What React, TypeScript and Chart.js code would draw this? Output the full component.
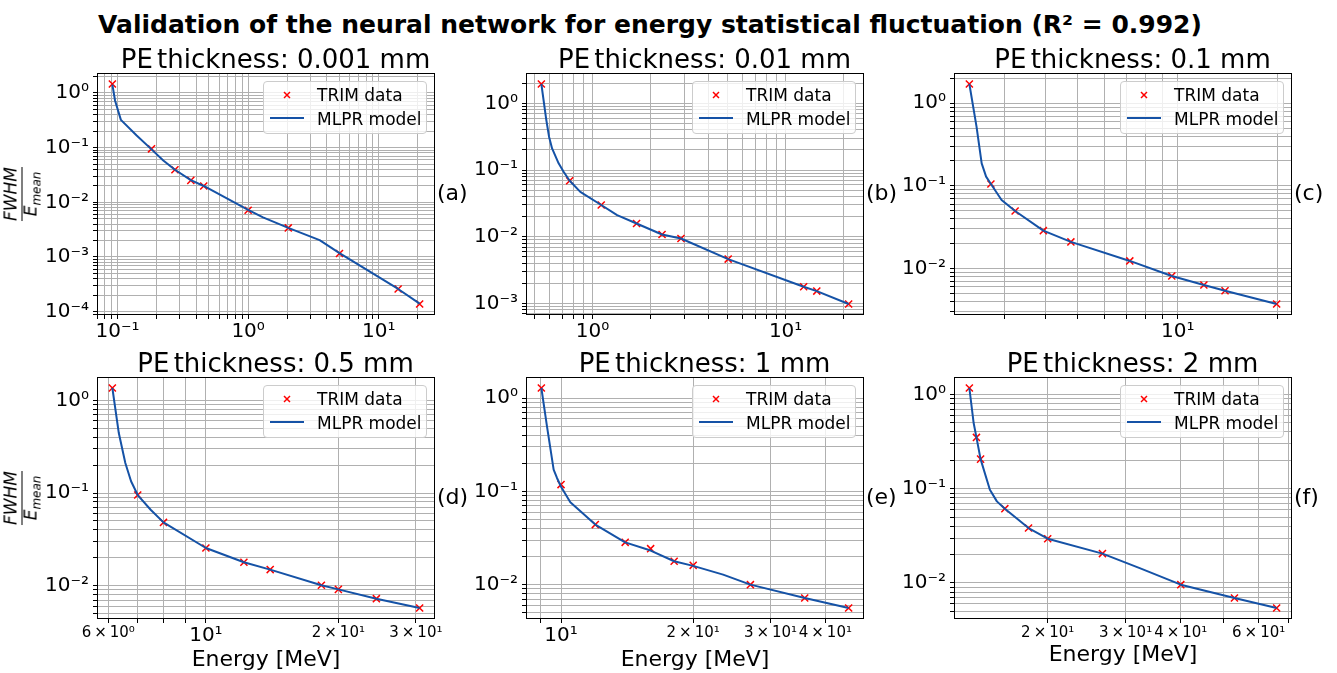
import React, { useEffect, useRef } from 'react';
import { Chart, registerables } from 'chart.js';

Chart.register(...registerables);

const FONT = 'DejaVu Sans';
const BLUE = '#1552a6';
const RED = '#ff0000';

// ---------- data: panel (a) PE 0.001 mm ----------
const energyA = [0.0912, 0.182, 0.275, 0.364, 0.457, 1.0, 2.03, 5.01, 14.1, 20.6];
const trimA = [1.46, 0.095, 0.0394, 0.0252, 0.0199, 0.00715, 0.0034, 0.00116, 2.6e-4, 1.38e-4];
const modelEnergyA = [0.0912, 0.0957, 0.106, 0.14, 0.182, 0.224, 0.275, 0.364, 0.457, 1.0, 1.3, 2.03, 3.53, 5.01, 14.1, 20.6];
const modelA = [1.42, 0.72, 0.322, 0.167, 0.093, 0.0583, 0.0394, 0.0255, 0.0199, 0.0073, 0.0053, 0.0034, 0.00203, 0.00118, 2.6e-4, 1.4e-4];

// ---------- panel (b) PE 0.01 mm ----------
const energyB = [0.543, 0.761, 1.109, 1.69, 2.29, 2.87, 5.04, 12.4, 14.5, 21.2];
const trimB = [1.95, 0.069, 0.0299, 0.0158, 0.0108, 0.0094, 0.00462, 0.00178, 0.00153, 0.00098];
const modelEnergyB = [0.543, 0.576, 0.595, 0.617, 0.667, 0.708, 0.761, 0.864, 1.109, 1.34, 1.69, 2.29, 2.87, 5.04, 12.4, 14.5, 21.2];
const modelB = [1.95, 0.562, 0.316, 0.211, 0.126, 0.0944, 0.069, 0.047, 0.0299, 0.0211, 0.0158, 0.0108, 0.0094, 0.00462, 0.00178, 0.00153, 0.00098];

// ---------- panel (c) PE 0.1 mm ----------
const energyC = [2.35, 2.73, 3.23, 3.93, 4.76, 7.17, 9.6, 12.0, 13.9, 19.9];
const trimC = [1.71, 0.105, 0.0495, 0.0286, 0.0209, 0.0123, 0.00807, 0.00628, 0.00536, 0.0037];
const modelEnergyC = [2.35, 2.47, 2.56, 2.64, 2.73, 2.94, 3.23, 3.93, 4.76, 7.17, 9.6, 12.0, 13.9, 19.9];
const modelC = [1.71, 0.521, 0.187, 0.129, 0.105, 0.0673, 0.0495, 0.0286, 0.0209, 0.0123, 0.00807, 0.00628, 0.00536, 0.0037];

// ---------- panel (d) PE 0.5 mm ----------
const energyD = [6.13, 7.0, 8.01, 10, 12.2, 14.0, 18.3, 20, 24.4, 30.6];
const trimD = [1.36, 0.0951, 0.0482, 0.0255, 0.0179, 0.0149, 0.0101, 0.00912, 0.00724, 0.00574];
const modelEnergyD = [6.13, 6.34, 6.56, 6.76, 7.0, 7.49, 8.01, 10, 12.2, 14.0, 18.3, 20, 24.4, 30.6];
const modelD = [1.36, 0.444, 0.211, 0.134, 0.0951, 0.066, 0.0482, 0.0255, 0.0179, 0.0149, 0.0101, 0.00912, 0.00724, 0.00574];

// ---------- panel (e) PE 1 mm ----------
const energyE = [9.02, 10.0, 11.97, 14.0, 16.0, 18.1, 20, 27.0, 35.9, 45.2];
const trimE = [1.28, 0.118, 0.044, 0.0284, 0.0243, 0.0178, 0.0161, 0.01, 0.0072, 0.00562];
const modelEnergyE = [9.02, 9.29, 9.62, 9.79, 10.0, 10.5, 11.97, 14.0, 16.0, 18.1, 20, 23.4, 27.0, 35.9, 45.2];
const modelE = [1.28, 0.497, 0.171, 0.139, 0.112, 0.0762, 0.044, 0.0284, 0.0232, 0.0178, 0.0159, 0.0128, 0.01, 0.0072, 0.00562];

// ---------- panel (f) PE 2 mm ----------
const energyF = [13.3, 13.8, 14.1, 16.0, 18.1, 20, 26.6, 40, 52.9, 65.9];
const trimF = [1.17, 0.35, 0.206, 0.0614, 0.0383, 0.0295, 0.0205, 0.0096, 0.00693, 0.00543];
const modelEnergyF = [13.3, 13.6, 13.8, 14.1, 14.8, 15.35, 16.0, 18.1, 20, 26.6, 32.3, 40, 52.9, 65.9];
const modelF = [1.17, 0.497, 0.35, 0.206, 0.0976, 0.0734, 0.0614, 0.0383, 0.0295, 0.0205, 0.0144, 0.0096, 0.00693, 0.00543];

// ---------- tick labels ----------
const T = '\u2009×\u2009';
const xTicksA = [0.1, 1, 10];
const xLabelsA = ['10⁻¹', '10⁰', '10¹'];
const xTicksB = [1, 10];
const xLabelsB = ['10⁰', '10¹'];
const xTicksC = [10];
const xLabelsC = ['10¹'];
const xTicksD = [6, 10, 20, 30];
const xLabelsD = ['6' + T + '10⁰', '10¹', '2' + T + '10¹', '3' + T + '10¹'];
const xTicksE = [10, 20, 30, 40];
const xLabelsE = ['10¹', '2' + T + '10¹', '3' + T + '10¹', '4' + T + '10¹'];
const xTicksF = [20, 30, 40, 60];
const xLabelsF = ['2' + T + '10¹', '3' + T + '10¹', '4' + T + '10¹', '6' + T + '10¹'];
const yTicksA = [1e-4, 1e-3, 1e-2, 1e-1, 1];
const yLabelsA = ['10⁻⁴', '10⁻³', '10⁻²', '10⁻¹', '10⁰'];
const yTicksB = [1e-3, 1e-2, 1e-1, 1];
const yLabelsB = ['10⁻³', '10⁻²', '10⁻¹', '10⁰'];
const yTicksC = [1e-2, 1e-1, 1];
const yLabelsC = ['10⁻²', '10⁻¹', '10⁰'];

const titles = ['PE thickness: 0.001 mm', 'PE thickness: 0.01 mm', 'PE thickness: 0.1 mm', 'PE thickness: 0.5 mm', 'PE thickness: 1 mm', 'PE thickness: 2 mm'];
const tags = ['(a)', '(b)', '(c)', '(d)', '(e)', '(f)'];
const seriesNames = ['TRIM data', 'MLPR model'];
const mainTitle = 'Validation of the neural network for energy statistical fluctuation (R² = 0.992)';

// ---------- layout ----------
const PLOT_W = 338;
const PLOT_H = 242;
const Y_W = 80;
const PAD_T = 16;
const PAD_R = 30;
const X_H = 45;
const COLS = [97, 526, 954];
const ROWS = [73, 377];

const panels = [
  { e: energyA, t: trimA, me: modelEnergyA, m: modelA, xt: xTicksA, xl: xLabelsA, yt: yTicksA, yl: yLabelsA },
  { e: energyB, t: trimB, me: modelEnergyB, m: modelB, xt: xTicksB, xl: xLabelsB, yt: yTicksB, yl: yLabelsB },
  { e: energyC, t: trimC, me: modelEnergyC, m: modelC, xt: xTicksC, xl: xLabelsC, yt: yTicksC, yl: yLabelsC },
  { e: energyD, t: trimD, me: modelEnergyD, m: modelD, xt: xTicksD, xl: xLabelsD, yt: yTicksC, yl: yLabelsC },
  { e: energyE, t: trimE, me: modelEnergyE, m: modelE, xt: xTicksE, xl: xLabelsE, yt: yTicksC, yl: yLabelsC },
  { e: energyF, t: trimF, me: modelEnergyF, m: modelF, xt: xTicksF, xl: xLabelsF, yt: yTicksC, yl: yLabelsC },
];

function logLimits(values: number[]): [number, number] {
  const lo = Math.log10(Math.min(...values));
  const hi = Math.log10(Math.max(...values));
  const pad = 0.05 * (hi - lo);
  return [Math.pow(10, lo - pad), Math.pow(10, hi + pad)];
}

function gridValues(min: number, max: number): number[] {
  const out: number[] = [];
  for (let e = Math.floor(Math.log10(min)); e <= Math.ceil(Math.log10(max)); e++) {
    for (let k = 1; k <= 9; k++) {
      const v = Number((k * Math.pow(10, e)).toPrecision(8));
      if (v > min && v < max) out.push(v);
    }
  }
  return out;
}

function labelFor(v: number, ticks: number[], labels: string[]): string {
  const i = ticks.findIndex((t) => Math.abs(Math.log10(t) - Math.log10(v)) < 1e-6);
  return i >= 0 ? labels[i] : '';
}

const framePlugin = {
  id: 'frame',
  afterDatasetsDraw(chart: any) {
    const { ctx, chartArea } = chart;
    const l = Math.round(chartArea.left) + 0.5;
    const t = Math.round(chartArea.top) + 0.5;
    const r = Math.round(chartArea.right) - 0.5;
    const b = Math.round(chartArea.bottom) - 0.5;
    ctx.save();
    ctx.strokeStyle = '#000';
    ctx.lineWidth = 1;
    ctx.strokeRect(l, t, r - l, b - t);
    ctx.restore();
  },
};

function Panel({ p, left, top }: { p: any; left: number; top: number }) {
  const ref = useRef<HTMLCanvasElement>(null);
  const W = Y_W + PLOT_W + PAD_R;
  const H = PAD_T + PLOT_H + X_H;
  useEffect(() => {
    const [xmin, xmax] = logLimits([...p.e, ...p.me]);
    const [ymin, ymax] = logLimits([...p.t, ...p.m]);
    const tickFont = (c: any) => {
      const lab = c && c.tick && typeof c.tick.label === 'string' ? c.tick.label : '';
      return { family: FONT, size: lab.includes('×') ? 15 : 20 };
    };
    const chart = new Chart(ref.current as HTMLCanvasElement, {
      type: 'scatter',
      data: {
        datasets: [
          {
            label: seriesNames[0],
            data: p.e.map((x: number, i: number) => ({ x, y: p.t[i] })),
            showLine: false,
            pointStyle: 'crossRot',
            pointRadius: 5,
            pointHoverRadius: 5,
            borderColor: RED,
            backgroundColor: RED,
            borderWidth: 1.5,
            order: 1,
          },
          {
            label: seriesNames[1],
            data: p.me.map((x: number, i: number) => ({ x, y: p.m[i] })),
            showLine: true,
            pointRadius: 0,
            borderColor: BLUE,
            backgroundColor: BLUE,
            borderWidth: 2,
            tension: 0,
            borderJoinStyle: 'round',
            fill: false,
            order: 0,
          },
        ],
      },
      plugins: [framePlugin],
      options: {
        animation: false,
        responsive: false,
        devicePixelRatio: 1,
        events: [],
        layout: { padding: { top: PAD_T, right: PAD_R, left: 0, bottom: 0 } },
        plugins: { legend: { display: false }, tooltip: { enabled: false }, title: { display: false } },
        scales: {
          x: {
            type: 'logarithmic',
            position: 'bottom',
            min: xmin,
            max: xmax,
            afterBuildTicks: (s: any) => {
              s.ticks = gridValues(xmin, xmax).map((v) => ({ value: v }));
            },
            afterFit: (s: any) => {
              s.height = X_H;
            },
            ticks: {
              autoSkip: false,
              maxRotation: 0,
              minRotation: 0,
              padding: 1,
              color: '#000',
              font: tickFont,
              callback: (v: any) => labelFor(Number(v), p.xt, p.xl),
            },
            grid: { color: '#b0b0b0', lineWidth: 1, tickLength: 4, tickColor: '#000', tickWidth: 1, drawTicks: true },
            border: { display: false },
          },
          y: {
            type: 'logarithmic',
            position: 'left',
            min: ymin,
            max: ymax,
            afterBuildTicks: (s: any) => {
              s.ticks = gridValues(ymin, ymax).map((v) => ({ value: v }));
            },
            afterFit: (s: any) => {
              s.width = Y_W;
            },
            ticks: {
              autoSkip: false,
              padding: 4,
              color: '#000',
              font: { family: FONT, size: 20 },
              callback: (v: any) => labelFor(Number(v), p.yt, p.yl),
            },
            grid: { color: '#b0b0b0', lineWidth: 1, tickLength: 4, tickColor: '#000', tickWidth: 1, drawTicks: true },
            border: { display: false },
          },
        },
      } as any,
    });
    return () => chart.destroy();
  }, []);
  return (
    <canvas
      ref={ref}
      width={W}
      height={H}
      style={{ position: 'absolute', left: left - Y_W, top: top - PAD_T, width: W, height: H }}
    />
  );
}

function Txt({ x, base, size, children, bold, align, style }: any) {
  return (
    <div
      style={{
        position: 'absolute',
        left: x,
        top: base - 0.846 * size,
        fontFamily: FONT,
        fontSize: size,
        fontWeight: bold ? 'bold' : 'normal',
        lineHeight: 1,
        whiteSpace: 'nowrap',
        color: '#000',
        transform: align === 'left' ? undefined : 'translateX(-50%)',
        ...style,
      }}
    >
      {children}
    </div>
  );
}

function Legend({ left, top }: { left: number; top: number }) {
  const w = 164;
  return (
    <div
      style={{
        position: 'absolute',
        left: left + PLOT_W - 8 - w,
        top: top + 8,
        width: w,
        height: 53,
        boxSizing: 'border-box',
        border: '1px solid #cccccc',
        borderRadius: 4,
        background: 'rgba(255,255,255,0.8)',
      }}
    >
      <svg width={w} height={53} style={{ position: 'absolute', left: -1, top: -1 }}>
        <line x1={21} y1={11} x2={27} y2={17} stroke={RED} strokeWidth={1.5} />
        <line x1={27} y1={11} x2={21} y2={17} stroke={RED} strokeWidth={1.5} />
        <line x1={7} y1={37} x2={41} y2={37} stroke={BLUE} strokeWidth={2} />
      </svg>
      <Txt x={53} base={19} size={17} align="left">{seriesNames[0]}</Txt>
      <Txt x={53} base={43} size={17} align="left">{seriesNames[1]}</Txt>
    </div>
  );
}

function YLabel({ cx, cy }: { cx: number; cy: number }) {
  return (
    <div
      style={{
        position: 'absolute',
        left: cx,
        top: cy,
        transform: 'translate(-50%,-50%) rotate(-90deg)',
        display: 'flex',
        flexDirection: 'column',
        alignItems: 'center',
        fontFamily: FONT,
        fontStyle: 'italic',
        lineHeight: 1,
        color: '#000',
      }}
    >
      <div style={{ fontSize: 17, paddingBottom: 2 }}>FWHM</div>
      <div style={{ alignSelf: 'stretch', height: 1, background: '#000' }} />
      <div style={{ fontSize: 17, paddingTop: 0 }}>
        E<span style={{ fontSize: 12, position: 'relative', top: 4 }}>mean</span>
      </div>
    </div>
  );
}

export default function App() {
  return (
    <div style={{ position: 'absolute', left: 0, top: 0, width: 1337, height: 673, background: '#fff', overflow: 'hidden' }}>
      {panels.map((p, i) => (
        <Panel key={i} p={p} left={COLS[i % 3]} top={ROWS[Math.floor(i / 3)]} />
      ))}
      {panels.map((p, i) => {
        const left = COLS[i % 3];
        const top = ROWS[Math.floor(i / 3)];
        return (
          <React.Fragment key={'t' + i}>
            <Legend left={left} top={top} />
            <Txt x={left + PLOT_W / 2 + 9.5} base={top - 5.5} size={26}>
              <span style={{ wordSpacing: -4 }}>{titles[i].slice(0, 3)}</span>
              {titles[i].slice(3)}
            </Txt>
            <Txt x={left + PLOT_W + 2} base={top + PLOT_H / 2 + 7} size={22} align="left">
              {tags[i]}
            </Txt>
            {i >= 3 && (
              <Txt x={left + PLOT_W / 2} base={i === 5 ? 662 : 667} size={22}>
                Energy [MeV]
              </Txt>
            )}
          </React.Fragment>
        );
      })}
      <YLabel cx={21} cy={ROWS[0] + PLOT_H / 2} />
      <YLabel cx={21} cy={ROWS[1] + PLOT_H / 2} />
      <Txt x={650} base={33} size={25} bold>
        {mainTitle}
      </Txt>
    </div>
  );
}
